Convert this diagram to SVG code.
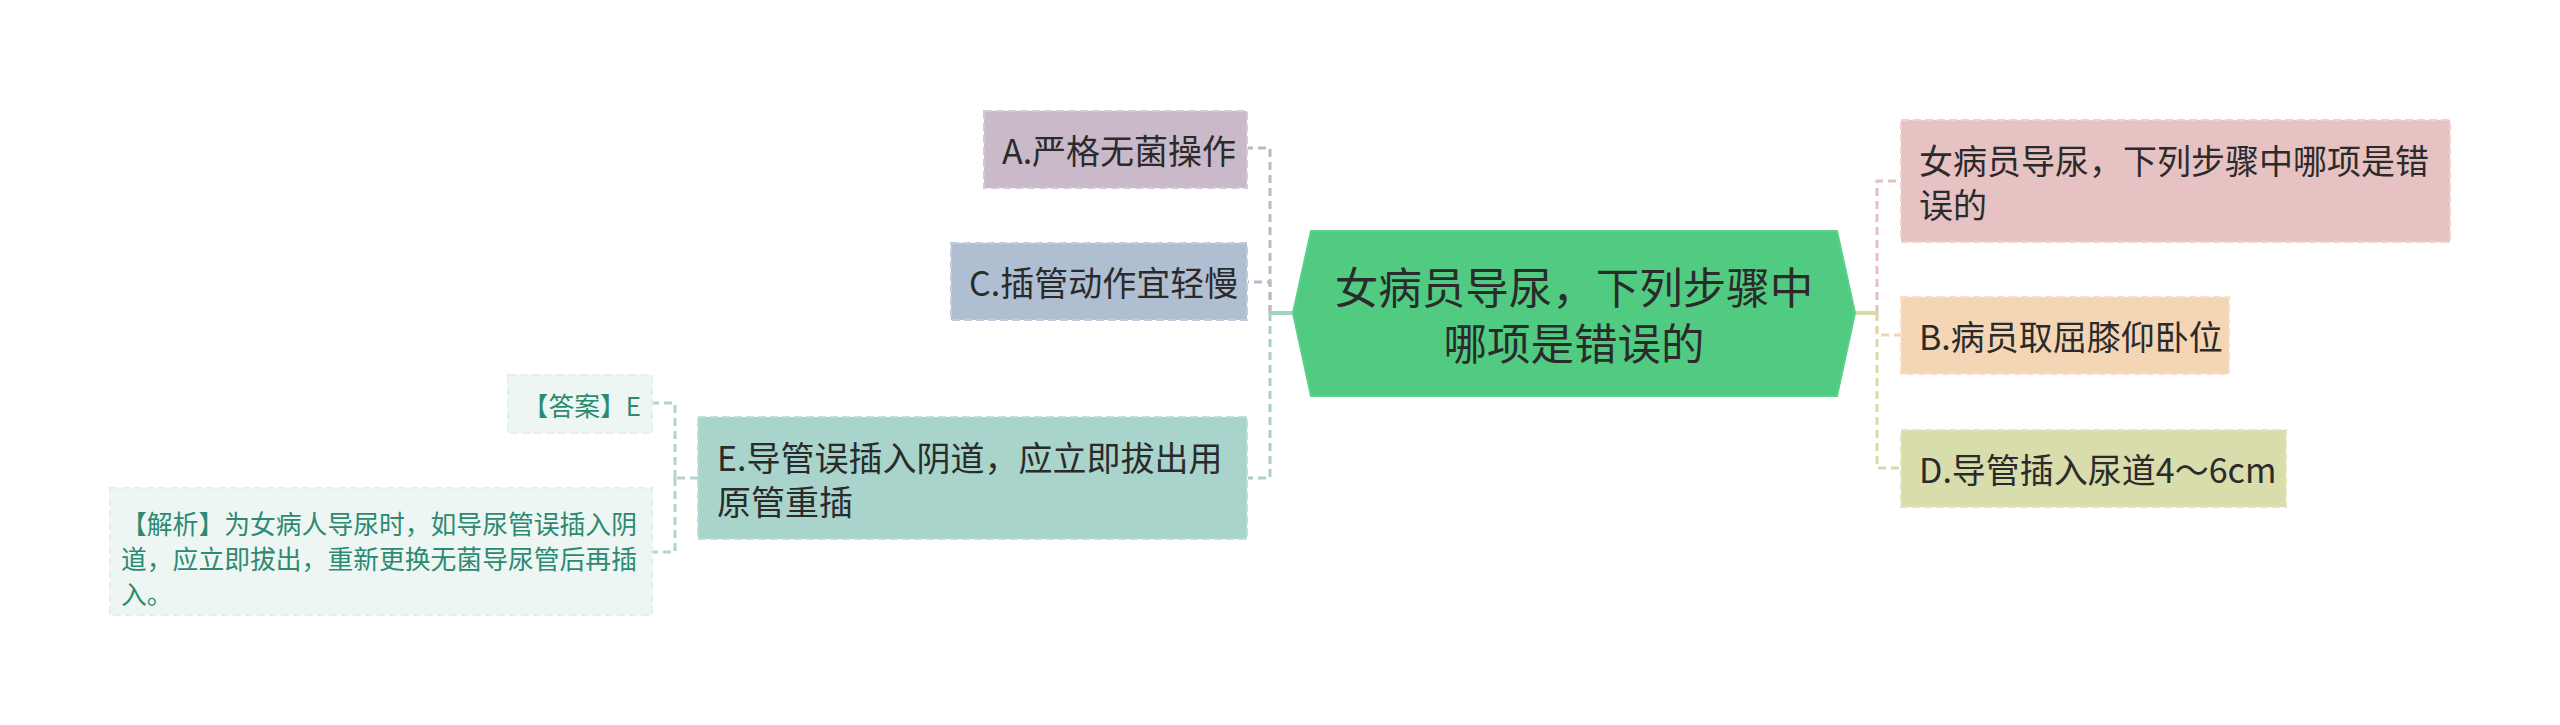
<svg xmlns="http://www.w3.org/2000/svg" width="2560" height="725" viewBox="0 0 2560 725">
<style>
  text { font-family: "Noto Sans CJK SC", "Noto Sans", sans-serif; dominant-baseline: central; }
  .t2 { font-size: 34px; fill: #2b2b2b; }
  .t1 { font-size: 43.5px; fill: #2b2b2b; text-anchor: middle; }
  .t3 { font-size: 25.8px; fill: #2d8a72; }
  .box { stroke-width: 2; stroke-dasharray: 8 4; }
  .con { fill: none; stroke-width: 3; stroke-dasharray: 8 5; }
  .solid { fill: none; stroke-width: 4; }
</style>
<rect width="2560" height="725" fill="#ffffff"/>

<g id="connectors">
  <path class="con" stroke="#afbed0" d="M1270,313 V282 H1248"/>
  <path class="con" stroke="#c5b5c5" d="M1270,313 V148 H1248"/>
  <path class="con" stroke="#a9d0c7" d="M1270,313 V478 H1248"/>
  <path class="solid" stroke="#a9d0c7" d="M1293,313 H1270"/>

  <path class="con" stroke="#f3d3b3" d="M1877,313 V335 H1901"/>
  <path class="con" stroke="#e6c0c0" d="M1877,313 V181 H1901"/>
  <path class="con" stroke="#d8dbaa" d="M1877,313 V468 H1901"/>
  <path class="solid" stroke="#d8dbaa" d="M1855,313 H1877"/>

  <path class="con" stroke="#b5d3cc" d="M698,478 H675"/>
  <path class="con" stroke="#b5d3cc" d="M675,478 V403 H652"/>
  <path class="con" stroke="#b5d3cc" d="M675,478 V552 H652"/>
</g>

<g id="center">
  <polygon points="1293,313 1311,231 1837,231 1855,313 1837,396 1311,396" fill="#51cb81" stroke="#5ad08a" stroke-width="2"/>
  <text class="t1"><tspan x="1574" y="285">女病员导尿，下列步骤中</tspan><tspan x="1574" y="341">哪项是错误的</tspan></text>
</g>

<g id="nodeA">
  <rect class="box" x="984" y="111" width="263" height="77" fill="#c9b9c9" stroke="#d6c9d6"/>
  <text class="t2" x="1002" y="149.5">A.严格无菌操作</text>
</g>

<g id="nodeC">
  <rect class="box" x="951" y="243" width="296" height="77" fill="#afbfd1" stroke="#c0cddc"/>
  <text class="t2" x="969" y="281.5">C.插管动作宜轻慢</text>
</g>

<g id="nodeE">
  <rect class="box" x="698" y="417" width="549" height="122" fill="#a8d4cb" stroke="#bcdfd7"/>
  <text class="t2"><tspan x="717" y="456">E.导管误插入阴道，应立即拔出用</tspan><tspan x="717" y="500">原管重插</tspan></text>
</g>

<g id="nodeAnswer">
  <rect class="box" x="508" y="375" width="144" height="58" fill="#eef6f4" stroke="#e4f0ed"/>
  <text class="t3" x="641" y="404" text-anchor="end">【答案】E</text>
</g>

<g id="nodeAnalysis">
  <rect class="box" x="110" y="488" width="542" height="127" fill="#eef6f4" stroke="#e4f0ed"/>
  <text class="t3"><tspan x="121" y="522">【解析】为女病人导尿时，如导尿管误插入阴</tspan><tspan x="121" y="557">道，应立即拔出，重新更换无菌导尿管后再插</tspan><tspan x="121" y="592">入。</tspan></text>
</g>

<g id="nodeQ">
  <rect class="box" x="1901" y="120" width="549" height="122" fill="#e7c2c2" stroke="#efd3d3"/>
  <text class="t2"><tspan x="1919" y="159">女病员导尿，下列步骤中哪项是错</tspan><tspan x="1919" y="203">误的</tspan></text>
</g>

<g id="nodeB">
  <rect class="box" x="1901" y="297" width="328" height="77" fill="#f4d5b4" stroke="#f8e0c8"/>
  <text class="t2" x="1919" y="335.5">B.病员取屈膝仰卧位</text>
</g>

<g id="nodeD">
  <rect class="box" x="1901" y="430" width="385" height="77" fill="#d9dcab" stroke="#e3e5c0"/>
  <text class="t2" x="1919" y="468.5">D.导管插入尿道4～6cm</text>
</g>
</svg>
